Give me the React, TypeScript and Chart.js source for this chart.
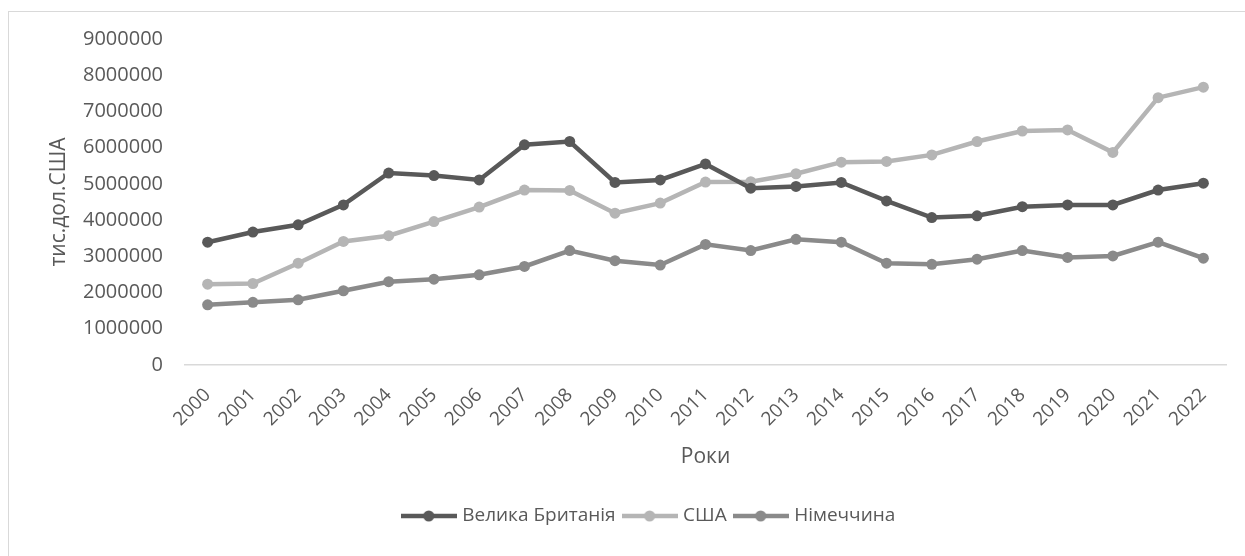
import React, { useEffect, useRef } from "react";
import { Chart, registerables } from "chart.js";

Chart.register(...registerables);

const years = [
  "2000", "2001", "2002", "2003", "2004", "2005", "2006", "2007", "2008", "2009", "2010", "2011",
  "2012", "2013", "2014", "2015", "2016", "2017", "2018", "2019", "2020", "2021", "2022",
];

const ukValues = [
  3390000, 3670000, 3870000, 4420000, 5300000, 5230000, 5110000, 6080000, 6170000, 5040000, 5110000, 5550000,
  4880000, 4930000, 5040000, 4530000, 4070000, 4120000, 4370000, 4420000, 4420000, 4830000, 5020000,
];

const usaValues = [
  2230000, 2250000, 2810000, 3410000, 3570000, 3960000, 4360000, 4830000, 4820000, 4190000, 4470000, 5050000,
  5060000, 5280000, 5600000, 5620000, 5800000, 6170000, 6460000, 6490000, 5870000, 7380000, 7670000,
];

const deValues = [
  1660000, 1730000, 1800000, 2050000, 2300000, 2370000, 2490000, 2720000, 3160000, 2880000, 2760000, 3330000,
  3160000, 3470000, 3390000, 2810000, 2780000, 2920000, 3160000, 2970000, 3010000, 3390000, 2950000,
];

const seriesNames = ["Велика Британія", "США", "Німеччина"];
const seriesColors = ["#595959", "#b5b5b5", "#8a8a8a"];

const yMin = 0;
const yMax = 9000000;
const yStep = 1000000;

const yTitle = "тис.дол.США";
const xTitle = "Роки";

const FONT = "'Open Sans', 'Noto Sans', sans-serif";
const TEXT = "#595959";

function makeLegendImage(color: string): HTMLCanvasElement {
  const c = document.createElement("canvas");
  c.width = 56;
  c.height = 12;
  const ctx = c.getContext("2d")!;
  ctx.strokeStyle = color;
  ctx.lineWidth = 4.5;
  ctx.beginPath();
  ctx.moveTo(0, 6);
  ctx.lineTo(56, 6);
  ctx.stroke();
  ctx.fillStyle = color;
  ctx.beginPath();
  ctx.arc(28, 6, 5.5, 0, Math.PI * 2);
  ctx.fill();
  return c;
}

export default function App() {
  const ref = useRef<HTMLCanvasElement | null>(null);

  useEffect(() => {
    if (!ref.current) return;
    const legendImgs = seriesColors.map(makeLegendImage);
    const allValues = [ukValues, usaValues, deValues];
    const chart = new Chart(ref.current, {
      type: "line",
      data: {
        labels: years,
        datasets: allValues.map((vals, i) => ({
          label: seriesNames[i],
          data: vals,
          borderColor: seriesColors[i],
          backgroundColor: seriesColors[i],
          pointBackgroundColor: seriesColors[i],
          pointBorderColor: seriesColors[i],
          pointBorderWidth: 0,
          pointRadius: 5.5,
          borderWidth: 4.5,
          tension: 0,
          fill: false,
          yAxisID: "y",
        })),
      },
      options: {
        animation: false,
        responsive: false,
        maintainAspectRatio: false,
        layout: { padding: { left: 8, right: 8, top: 39, bottom: 20.5 } },
        plugins: {
          tooltip: { enabled: false },
          legend: {
            position: "bottom",
            labels: {
              usePointStyle: true,
              pointStyleWidth: 48,
              padding: 10,
              color: TEXT,
              font: { family: FONT, size: 19 },
              generateLabels: (ch: any) => {
                const items = Chart.defaults.plugins.legend.labels.generateLabels(ch);
                return items.map((it: any, i: number) => ({ ...it, pointStyle: legendImgs[it.datasetIndex ?? i] }));
              },
              sort: (a: any, b: any) => a.datasetIndex - b.datasetIndex,
            },
          },
        },
        scales: {
          x: {
            type: "category",
            offset: true,
            grid: { display: false, drawTicks: false, tickLength: 0 },
            border: { display: true, color: "#d9d9d9", width: 1.5 },
            ticks: {
              autoSkip: false,
              maxRotation: 45,
              minRotation: 45,
              padding: 19,
              color: TEXT,
              font: { family: FONT, size: 19 },
            },
            title: {
              display: true,
              text: xTitle,
              color: TEXT,
              font: { family: FONT, size: 21 },
              padding: { top: 0, bottom: 27 },
            },
            afterFit: (scale: any) => {
              scale.height = 131.5;
            },
          },
          y: {
            type: "linear",
            position: "left",
            min: yMin,
            max: yMax,
            grid: { display: false, drawTicks: false, tickLength: 0 },
            border: { display: false },
            ticks: {
              stepSize: yStep,
              padding: 22,
              color: TEXT,
              font: { family: FONT, size: 20 },
              callback: (v: any) => String(v),
            },
            title: {
              display: true,
              text: yTitle,
              color: TEXT,
              font: { family: FONT, size: 21 },
              padding: { top: 38, bottom: 0 },
            },
            afterFit: (scale: any) => {
              scale.width = 177;
            },
          },
          yRight: {
            type: "linear",
            position: "right",
            display: true,
            grid: { display: false, drawTicks: false },
            border: { display: false },
            ticks: { display: false },
            afterFit: (scale: any) => {
              scale.width = 66;
            },
          },
        },
      },
    } as any);
    return () => chart.destroy();
  }, []);

  return (
    <div
      style={{
        position: "fixed",
        left: 0,
        top: 0,
        width: 1245,
        height: 556,
        overflow: "hidden",
        background: "#ffffff",
      }}
    >
      <div
        style={{
          position: "absolute",
          left: 8,
          top: 11,
          width: 1284,
          height: 600,
          border: "1px solid #d9d9d9",
          boxSizing: "border-box",
        }}
      />
      <canvas
        ref={ref}
        width={1300}
        height={556}
        style={{ position: "absolute", left: 0, top: 0, width: 1300, height: 556 }}
      />
    </div>
  );
}
